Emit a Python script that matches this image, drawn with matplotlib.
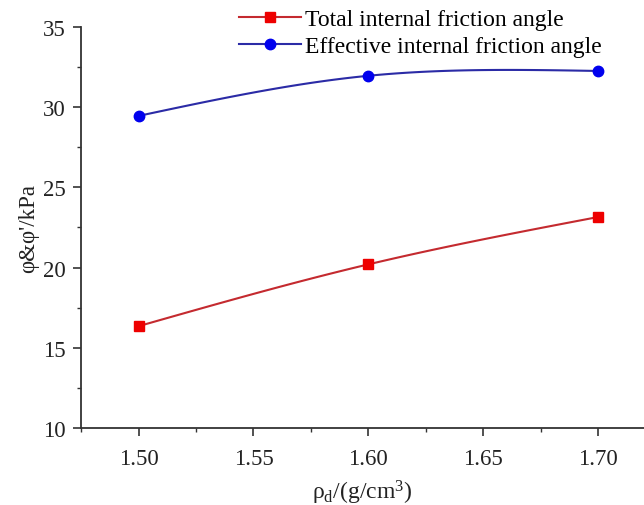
import numpy as np
import matplotlib
matplotlib.use('Agg')
import matplotlib.pyplot as plt
from matplotlib.ticker import MultipleLocator

plt.rcParams['font.family'] = ['Liberation Serif', 'DejaVu Serif']
plt.rcParams['mathtext.default'] = 'regular'

# data
density = [1.50, 1.60, 1.70]
total_angle = [16.35, 20.2, 23.15]
effective_angle = [29.45, 31.95, 32.25]


def natural_spline(x, y, n=60):
    # smooth connecting line like Origin's spline connector
    x = np.asarray(x, float)
    y = np.asarray(y, float)
    h = np.diff(x)
    k = len(x)
    A = np.zeros((k, k))
    b = np.zeros(k)
    A[0, 0] = A[-1, -1] = 1
    for i in range(1, k - 1):
        A[i, i - 1] = h[i - 1]
        A[i, i] = 2 * (h[i - 1] + h[i])
        A[i, i + 1] = h[i]
        b[i] = 6 * ((y[i + 1] - y[i]) / h[i] - (y[i] - y[i - 1]) / h[i - 1])
    M = np.linalg.solve(A, b)
    xs, ys = [], []
    for i in range(k - 1):
        t = np.linspace(x[i], x[i + 1], n)
        a = x[i + 1] - t
        c = t - x[i]
        s = (M[i] * a**3 + M[i + 1] * c**3) / (6 * h[i]) \
            + (y[i] / h[i] - M[i] * h[i] / 6) * a \
            + (y[i + 1] / h[i] - M[i + 1] * h[i] / 6) * c
        xs.append(t)
        ys.append(s)
    return np.concatenate(xs), np.concatenate(ys)


fig = plt.figure(figsize=(6.44, 5.06), dpi=100)
ax = fig.add_axes([0.126, 0.152, 0.874, 0.793])

red_line, red_mark = '#c42a2f', '#ee0000'
blue_line, blue_mark = '#2b2ba6', '#0000ee'

sx, sy = natural_spline(density, total_angle)
ax.plot(sx, sy, color=red_line, lw=1.5)
ax.plot(density, total_angle, ls='none', marker='s', ms=6.5, color=red_mark)
sx, sy = natural_spline(density, effective_angle)
ax.plot(sx, sy, color=blue_line, lw=1.5)
ax.plot(density, effective_angle, ls='none', marker='o', ms=7.5, color=blue_mark)

# legend handles (line + marker)
h1, = ax.plot([], [], color=red_line, lw=1.5, marker='s', ms=6.5,
              mfc=red_mark, mec=red_mark)
h2, = ax.plot([], [], color=blue_line, lw=1.5, marker='o', ms=7.5,
              mfc=blue_mark, mec=blue_mark)
fig.legend([h1, h2], ['Total internal friction angle',
                      'Effective internal friction angle'],
           loc='upper left', bbox_to_anchor=(0.368, 0.986), frameon=False,
           fontsize=17, handlelength=2.6, handletextpad=0.2,
           labelspacing=0.25, borderaxespad=0, borderpad=0.1)

ax.set_xlim(1.475, 1.72)
ax.set_ylim(10, 35)
ax.xaxis.set_major_locator(MultipleLocator(0.05))
ax.xaxis.set_minor_locator(MultipleLocator(0.025))
ax.yaxis.set_major_locator(MultipleLocator(5))
ax.yaxis.set_minor_locator(MultipleLocator(2.5))
ax.set_xticks([1.50, 1.55, 1.60, 1.65, 1.70])
ax.set_xticklabels(['1.50', '1.55', '1.60', '1.65', '1.70'])

for side in ['top', 'right']:
    ax.spines[side].set_visible(False)
for side in ['left', 'bottom']:
    ax.spines[side].set_linewidth(1.3)
    ax.spines[side].set_color('#333333')

ax.tick_params(axis='x', which='major', pad=8)
ax.tick_params(which='major', direction='out', length=6, width=1.2,
               labelsize=16.5, colors='#333333', labelcolor='#222222')
ax.tick_params(axis='y', which='major', pad=5)
ax.tick_params(which='minor', direction='out', length=3, width=1.0,
               colors='#333333')

ax.set_xlabel('ρ$_d$/(g/cm$^3$)', fontsize=17, color='#222222', labelpad=7)
ax.set_ylabel("φ&φ'/kPa", fontsize=16.5, color='#222222', labelpad=3)

fig.savefig('out.png', dpi=100)
